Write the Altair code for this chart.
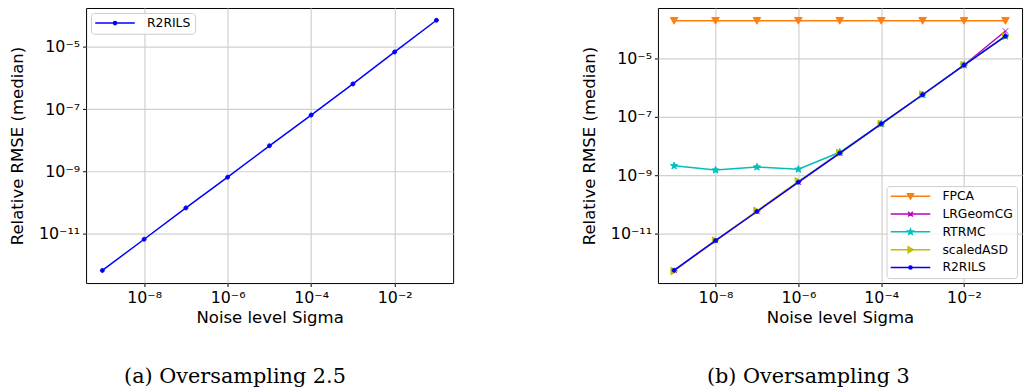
import math
import altair as alt
import pandas as pd

# ---------------- data ----------------
sigma = [1e-9, 1e-8, 1e-7, 1e-6, 1e-5, 1e-4, 1e-3, 1e-2, 1e-1]

# panel (a): oversampling 2.5
left_r2rils = [6.7e-13, 6.7e-12, 6.8e-11, 6.6e-10, 6.7e-9, 6.5e-8, 6.5e-7, 6.9e-6, 7.2e-5]

# panel (b): oversampling 3
fpca = [1.9e-4, 1.9e-4, 1.9e-4, 1.9e-4, 1.9e-4, 1.9e-4, 1.9e-4, 1.9e-4, 1.9e-4]
lrgeomcg = [5.7e-13, 5.9e-12, 5.8e-11, 5.8e-10, 5.7e-9, 5.7e-8, 5.6e-7, 5.8e-6, 8.4e-5]
rtrmc = [2.1e-9, 1.5e-9, 1.9e-9, 1.6e-9, 6.1e-9, 5.7e-8, 5.6e-7, 5.8e-6, 5.6e-5]
scaledasd = [5.4e-13, 5.9e-12, 6.1e-11, 6.2e-10, 5.8e-9, 5.7e-8, 5.7e-7, 5.8e-6, 5.6e-5]
right_r2rils = [5.7e-13, 5.9e-12, 5.8e-11, 5.8e-10, 5.7e-9, 5.7e-8, 5.6e-7, 5.8e-6, 5.6e-5]

series_names = ["FPCA", "LRGeomCG", "RTRMC", "scaledASD", "R2RILS"]
series_colors = ["#ff7f0e", "#bf00bf", "#00bfbf", "#bfbf00", "#0000ff"]

captions = ["(a) Oversampling 2.5", "(b) Oversampling 3"]
x_title = "Noise level Sigma"
y_title = "Relative RMSE (median)"
x_ticks = [1e-8, 1e-6, 1e-4, 1e-2]
y_ticks = [1e-11, 1e-9, 1e-7, 1e-5]

# ---------------- tables ----------------
left_df = pd.DataFrame({"sigma": sigma, "rmse": left_r2rils, "series": "R2RILS"})
right_df = pd.concat(
    [
        pd.DataFrame({"sigma": sigma, "rmse": vals, "series": name})
        for name, vals in zip(series_names, [fpca, lrgeomcg, rtrmc, scaledasd, right_r2rils])
    ],
    ignore_index=True,
)

# ---------------- marker shapes (unit = 4 px at size 64) ----------------
def star_path(ro=0.95, ri=0.4):
    pts = []
    for k in range(10):
        r = ro if k % 2 == 0 else ri
        a = math.radians(-90 + 36 * k)
        pts.append((r * math.cos(a), r * math.sin(a)))
    return "M" + "L".join(f"{x:.3f},{y:.3f}" for x, y in pts) + "Z"

MARKERS = {
    "FPCA": "M-0.95,-0.8L0.95,-0.8L0,0.9Z",
    "LRGeomCG": "M-0.7,-0.7L0.7,0.7M-0.7,0.7L0.7,-0.7",
    "RTRMC": star_path(),
    "scaledASD": "M-0.8,-0.95L-0.8,0.95L0.9,0Z",
    "R2RILS": "M-0.5,0A0.5,0.5 0 1,0 0.5,0A0.5,0.5 0 1,0 -0.5,0Z",
}
LEGEND_MARKERS = {
    "FPCA": "M-0.75,-0.6L0.75,-0.6L0,0.7Z",
    "LRGeomCG": "M-0.6,-0.6L0.6,0.6M-0.6,0.6L0.6,-0.6",
    "RTRMC": star_path(0.7, 0.3),
    "scaledASD": "M-0.6,-0.75L-0.6,0.75L0.7,0Z",
    "R2RILS": "M-0.4,0A0.4,0.4 0 1,0 0.4,0A0.4,0.4 0 1,0 -0.4,0Z",
}
LEGEND_LINE = "M-5,0H5"

sup_expr = ("'10\u207b' + (round(-log(datum.value)/LN10) >= 10 ? '\u00b9' : '') + "
            "['\u2070','\u00b9','\u00b2','\u00b3','\u2074','\u2075','\u2076','\u2077','\u2078','\u2079']"
            "[round(-log(datum.value)/LN10) % 10]")

FONT = "DejaVu Sans"


def panel(df, names, colors, y_lo, y_hi, legend_orient, caption, width, cap_dx):
    x = alt.X(
        "sigma:Q",
        scale=alt.Scale(type="log", domain=[10 ** -9.39, 10 ** -0.6], nice=False),
        axis=alt.Axis(values=x_ticks, labelExpr=sup_expr, title=x_title),
    )
    y = alt.Y(
        "rmse:Q",
        scale=alt.Scale(type="log", domain=[10 ** y_lo, 10 ** y_hi], nice=False),
        axis=alt.Axis(values=y_ticks, labelExpr=sup_expr, title=y_title, titlePadding=12),
    )
    layers = []
    base = alt.Chart(df)
    for name, color in zip(names, colors):
        sub = base.transform_filter(alt.datum.series == name)
        layers.append(sub.mark_line(color=color, strokeWidth=1.5).encode(x=x, y=y))
        layers.append(
            sub.mark_point(shape=MARKERS[name], size=64, fill=color, stroke=color,
                           strokeWidth=1, opacity=1, filled=True).encode(x=x, y=y)
        )
    leg = alt.Legend(
        orient=legend_orient, title=None, offset=5, padding=4,
        fillColor="rgba(255,255,255,0.8)", strokeColor="#cccccc", cornerRadius=3,
        labelFont=FONT, labelFontSize=12.5, labelColor="black",
        symbolSize=64, symbolStrokeWidth=1.5, symbolOpacity=1,
        symbolOffset=14, labelOffset=26, rowPadding=5,
    )
    legend_layer = alt.Chart(df).mark_point(opacity=0, size=64, filled=True).encode(
        x=x, y=y,
        fill=alt.Fill("series:N", scale=alt.Scale(domain=names, range=colors), legend=leg),
        stroke=alt.Stroke("series:N", scale=alt.Scale(domain=names, range=colors), legend=leg),
        shape=alt.Shape("series:N",
                        scale=alt.Scale(domain=names, range=[LEGEND_LINE + LEGEND_MARKERS[n] for n in names]),
                        legend=leg),
    )
    return alt.layer(*layers, legend_layer).properties(
        width=width, height=278,
        title=alt.TitleParams(caption, orient="bottom", anchor="middle", font="DejaVu Serif",
                              fontSize=21, fontWeight="normal", color="black", offset=41, dx=cap_dx),
    )


left = panel(left_df, ["R2RILS"], ["#0000ff"], -12.58, -3.75, "top-left", captions[0], 371, -35)
right = panel(right_df, series_names, series_colors, -12.68, -3.29, "bottom-right", captions[1], 368, -32)

chart = (
    alt.hconcat(left, right, spacing=125)
    .resolve_scale(fill="independent", stroke="independent", shape="independent")
    .resolve_legend(fill="independent", stroke="independent", shape="independent")
    .properties(padding={"left": 9, "top": 5, "right": 0, "bottom": 0})
    .configure_view(stroke="black", strokeWidth=1)
    .configure_axis(
        domain=False, grid=True, gridColor="#d0d0d0", gridWidth=1.2,
        tickColor="black", tickSize=3.5, tickWidth=1,
        labelFont=FONT, labelFontSize=16, labelColor="black", labelPadding=3,
        titleFont=FONT, titleFontSize=16.7, titleFontWeight="normal", titleColor="black",
    )
)

chart.save("out.html", embed_options={"renderer": "svg", "actions": False})
